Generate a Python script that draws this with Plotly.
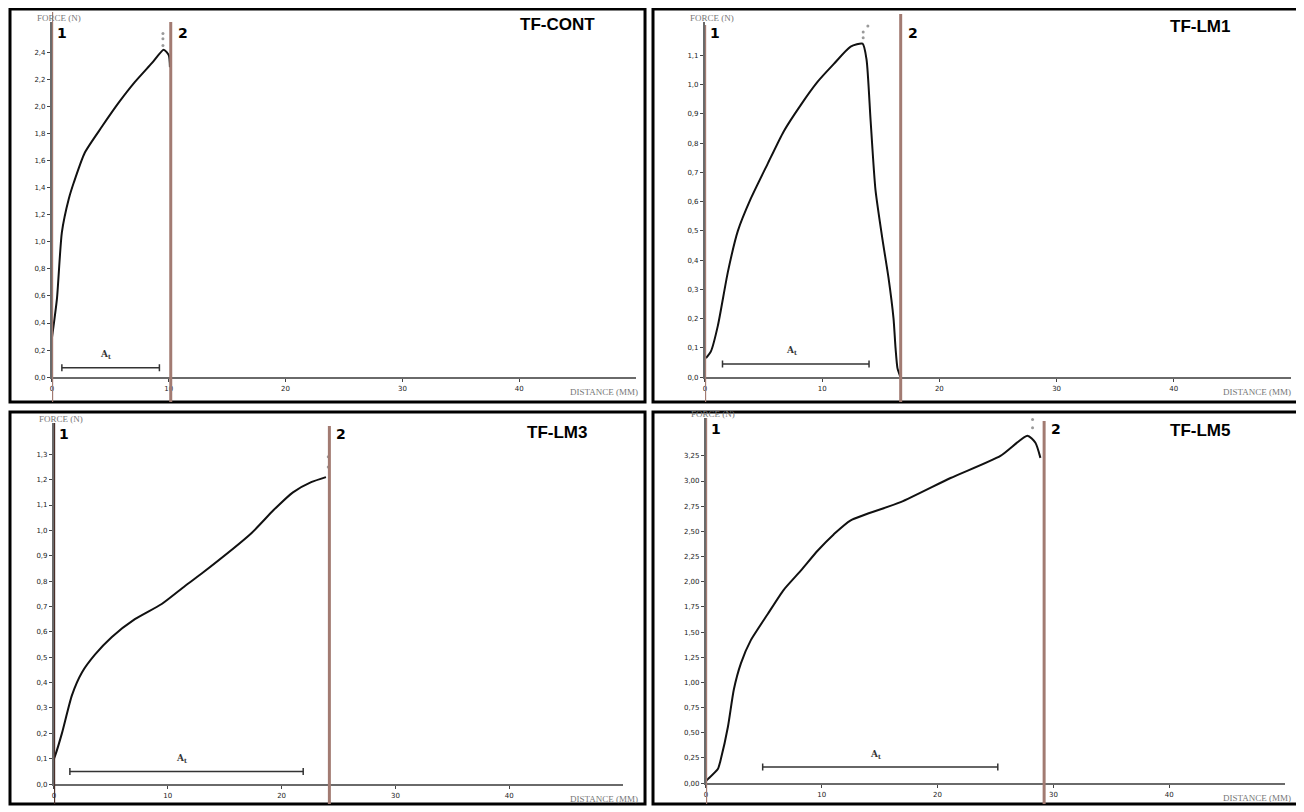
import plotly.graph_objects as go

# page body has an 8px margin; figure is laid out in reference pixel coordinates minus that offset
OFF = 8
W, H = 1296, 804

# ---------------- data (distance in mm, force in N) ----------------
cont_dist = [0.0, 0.43, 0.85, 1.45, 1.88, 2.82, 4.27, 5.73, 7.09, 8.55, 9.57, 10.0, 10.1]
cont_force = [0.29, 0.58, 1.07, 1.32, 1.44, 1.66, 1.85, 2.03, 2.18, 2.32, 2.42, 2.38, 2.29]

lm1_dist = [0.09, 0.51, 1.11, 1.96, 2.81, 3.91, 5.36, 6.72, 8.17, 9.62, 10.98, 12.43, 13.45,
            13.79, 14.13, 14.55, 15.15, 15.66, 16.09, 16.26, 16.43, 16.68]
lm1_force = [0.065, 0.088, 0.177, 0.36, 0.50, 0.61, 0.73, 0.84, 0.93, 1.01, 1.07, 1.13, 1.14,
             1.085, 0.88, 0.64, 0.47, 0.34, 0.20, 0.10, 0.03, 0.0]

lm3_dist = [0.0, 0.09, 0.70, 1.58, 2.46, 3.60, 5.09, 7.11, 9.47, 11.49, 12.98, 17.37, 19.3,
            21.0, 22.6, 23.9]
lm3_force = [0.10, 0.11, 0.20, 0.35, 0.44, 0.51, 0.58, 0.65, 0.71, 0.78, 0.83, 0.99, 1.08,
             1.15, 1.19, 1.21]

lm5_dist = [0.0, 0.17, 1.03, 1.29, 1.90, 2.41, 3.02, 3.88, 5.34, 6.72, 8.19, 9.66, 11.03,
            12.5, 16.81, 21.12, 25.43, 27.76, 28.45, 28.88]
lm5_force = [0.02, 0.04, 0.14, 0.24, 0.56, 0.93, 1.19, 1.42, 1.68, 1.92, 2.11, 2.31, 2.47,
             2.61, 2.79, 3.03, 3.25, 3.45, 3.38, 3.23]

panel_names = ["TF-CONT", "TF-LM1", "TF-LM3", "TF-LM5"]
cursor1_pos = [0.0, 0.0, 0.0, 0.0]          # vertical cursor "1" (mm)
cursor2_pos = [10.17, 16.7, 24.2, 29.2]     # vertical cursor "2" (mm)
at_start = [0.85, 1.5, 1.4, 4.9]            # A_t bar start (mm)
at_end = [9.2, 14.0, 21.9, 25.2]            # A_t bar end (mm)
at_level = [0.07, 0.045, 0.05, 0.16]        # A_t bar force level (N)
peak_dots_x = [[9.5, 9.5, 9.5], [13.9, 13.5, 13.5], [24.1, 24.1], [28.2, 28.2]]
peak_dots_y = [[2.54, 2.50, 2.45], [1.20, 1.18, 1.16], [1.29, 1.25], [3.61, 3.53]]
x_ticks = [0, 10, 20, 30, 40]
y_tick_step = [0.2, 0.1, 0.1, 0.25]
y_tick_max = [2.4, 1.1, 1.3, 3.25]
y_tick_fmt = [".1f", ".1f", ".1f", ".2f"]

curves = [(cont_dist, cont_force), (lm1_dist, lm1_force),
          (lm3_dist, lm3_force), (lm5_dist, lm5_force)]

# ---------------- layout geometry (reference pixels) ----------------
geo = [
    dict(x0=50, x1=635, ybot=379, ytop=22, ymax=(379 - 22) / 136.0,
         box=(8, 9, 644, 404), c1=(12, 404), c2=(22, 404)),
    dict(x0=704, x1=1291, ybot=379, ytop=22, ymax=(379 - 22) / 294.0,
         box=(652, 9, 1298, 404), c1=(25, 404), c2=(14, 404)),
    dict(x0=52, x1=622, ybot=788, ytop=425, ymax=(788 - 425) / 255.0,
         box=(8, 414, 644, 808), c1=(425, 808), c2=(428, 808)),
    dict(x0=705, x1=1285, ybot=787, ytop=420, ymax=(787 - 420) / 101.2,
         box=(652, 414, 1298, 808), c1=(420, 808), c2=(423, 808)),
]
title_pos = [(556, 25), (1200, 27), (556, 435), (1200, 433)]


def px(x):
    return (x - OFF) / W


def py(y):
    return 1 - (y - OFF) / H


fig = go.Figure()
shapes = []
annotations = []
cursor_color = "#a27b72"

for i, g in enumerate(geo):
    n = "" if i == 0 else str(i + 1)
    xa, ya = "x" + n, "y" + n
    d, f = curves[i]
    fig.add_trace(go.Scatter(x=d, y=f, mode="lines", xaxis=xa, yaxis=ya,
                             line=dict(color="#111111", width=2, shape="spline", smoothing=0.6),
                             showlegend=False, hoverinfo="skip"))
    # A_t bar
    fig.add_trace(go.Scatter(x=[at_start[i], at_end[i]], y=[at_level[i], at_level[i]],
                             mode="lines+markers", xaxis=xa, yaxis=ya,
                             line=dict(color="#333333", width=1.5),
                             marker=dict(symbol="line-ns", size=5, line=dict(width=1.5, color="#333")),
                             showlegend=False, hoverinfo="skip"))
    # peak dots
    fig.add_trace(go.Scatter(x=peak_dots_x[i], y=peak_dots_y[i], mode="markers",
                             xaxis=xa, yaxis=ya, cliponaxis=False,
                             marker=dict(color="#9a9a9a", size=3),
                             showlegend=False, hoverinfo="skip"))

    step = y_tick_step[i]
    nt = int(round(y_tick_max[i] / step))
    yvals = [round(k * step, 4) for k in range(nt + 1)]
    xkw = dict(domain=[px(g["x0"]), px(g["x1"])], range=[0, 50], showgrid=False,
               zeroline=False, showline=True, linecolor="#6a6a6a", linewidth=2,
               tickmode="array", tickvals=x_ticks, ticks="outside", ticklen=3,
               tickcolor="#444", tickfont=dict(size=7, color="#222", family="DejaVu Sans"),
               anchor=ya, fixedrange=True)
    ykw = dict(domain=[py(g["ybot"]), py(g["ytop"])], range=[0, g["ymax"]], showgrid=False,
               zeroline=False, showline=True, linecolor="#6a6a6a", linewidth=2,
               tickmode="array", tickvals=yvals, tickformat=y_tick_fmt[i],
               ticks="outside", ticklen=3, tickcolor="#444",
               tickfont=dict(size=7, color="#222", family="DejaVu Sans"),
               anchor=xa, fixedrange=True)
    fig.update_layout(**{"xaxis" + n: xkw, "yaxis" + n: ykw})

    # panel border
    bx0, by0, bx1, by1 = g["box"]
    shapes.append(dict(type="rect", xref="paper", yref="paper",
                       x0=px(bx0), x1=px(bx1), y0=py(by1), y1=py(by0),
                       line=dict(color="#000", width=3), layer="above"))
    # cursors
    shapes.append(dict(type="line", xref=xa, yref="paper", x0=cursor1_pos[i], x1=cursor1_pos[i],
                       y0=py(g["c1"][1]), y1=py(g["c1"][0]),
                       line=dict(color=cursor_color if i != 2 else "#4a302a", width=2.5), layer="above"))
    shapes.append(dict(type="line", xref=xa, yref="paper", x0=cursor2_pos[i], x1=cursor2_pos[i],
                       y0=py(g["c2"][1]), y1=py(g["c2"][0]),
                       line=dict(color=cursor_color, width=3), layer="above"))
    # cursor labels
    annotations.append(dict(xref=xa, yref="paper", x=cursor1_pos[i], y=py(g["ytop"] + 11),
                            text="<b>1</b>", showarrow=False, xanchor="left", yanchor="middle",
                            xshift=3, font=dict(size=14, color="#000", family="DejaVu Sans")))
    annotations.append(dict(xref=xa, yref="paper", x=cursor2_pos[i], y=py(g["ytop"] + 11),
                            text="<b>2</b>", showarrow=False, xanchor="left", yanchor="middle",
                            xshift=5, font=dict(size=14, color="#000", family="DejaVu Sans")))
    # A_t label
    annotations.append(dict(xref=xa, yref=ya, x=(at_start[i] + at_end[i]) / 2 - 0.4,
                            y=at_level[i], yshift=13, text="<b>A<sub>t</sub></b>", showarrow=False,
                            yanchor="middle",
                            font=dict(size=9, color="#333", family="DejaVu Serif")))
    # axis captions
    annotations.append(dict(xref="paper", yref="paper", x=px(g["x0"] - 17), y=py(g["ytop"] - 4),
                            text="FORCE (N)", showarrow=False, xanchor="left", yanchor="middle",
                            font=dict(size=9, color="#777", family="Liberation Serif")))
    annotations.append(dict(xref="paper", yref="paper", x=px(bx1 - 5), y=py(g["ybot"] + 15),
                            text="DISTANCE (MM)", showarrow=False, xanchor="right", yanchor="middle",
                            font=dict(size=9, color="#777", family="Liberation Serif")))
    # title
    tx, ty = title_pos[i]
    annotations.append(dict(xref="paper", yref="paper", x=px(tx), y=py(ty),
                            text="<b>" + panel_names[i] + "</b>", showarrow=False,
                            xanchor="center", yanchor="middle",
                            font=dict(size=17, color="#000", family="Liberation Sans")))

fig.update_layout(width=W, height=H, margin=dict(l=0, r=0, t=0, b=0),
                  paper_bgcolor="white", plot_bgcolor="white",
                  separators=",.", shapes=shapes, annotations=annotations,
                  showlegend=False)

fig.write_html("out.html")
